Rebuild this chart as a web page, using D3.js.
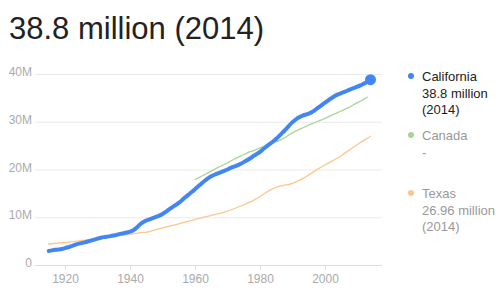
<!DOCTYPE html>
<html>
<head>
<meta charset="utf-8">
<script src="https://cdn.jsdelivr.net/npm/d3@7"></script>
<style>
  body { margin: 0; background: #fff; }
  svg { display: block; font-family: "Liberation Sans", Arial, sans-serif; }
</style>
</head>
<body>
<div id="chart"></div>
<script>
// population, millions
var caYears = d3.range(1915, 2015);
var caValues = [2.93, 3.07, 3.18, 3.26, 3.33, 3.55, 3.72, 3.92, 4.24, 4.44,
    4.57, 4.74, 4.92, 5.09, 5.30, 5.55, 5.72, 5.84, 5.94, 6.04,
    6.18, 6.34, 6.53, 6.66, 6.79, 6.95, 7.24, 7.74, 8.51, 8.97,
    9.34, 9.56, 9.83, 10.06, 10.34, 10.68, 11.13, 11.64, 12.10, 12.52,
    13.00, 13.58, 14.18, 14.74, 15.29, 15.87, 16.50, 17.07, 17.67, 18.15,
    18.59, 18.92, 19.18, 19.43, 19.71, 19.97, 20.35, 20.59, 20.87, 21.17,
    21.54, 21.94, 22.35, 22.84, 23.26, 23.67, 24.29, 24.82, 25.36, 25.84,
    26.44, 27.10, 27.78, 28.46, 29.22, 29.96, 30.47, 30.97, 31.27, 31.48,
    31.70, 32.02, 32.49, 32.99, 33.50, 33.99, 34.51, 34.94, 35.39, 35.75,
    35.99, 36.25, 36.55, 36.86, 37.08, 37.32, 37.67, 37.97, 38.33, 38.80];

var canYears = d3.range(1960, 2014);
var canValues = [17.90, 18.24, 18.58, 18.93, 19.29, 19.64, 20.05, 20.41, 20.73, 21.03,
    21.40, 21.80, 22.15, 22.49, 22.81, 23.14, 23.45, 23.73, 23.96, 24.20,
    24.52, 24.82, 25.12, 25.37, 25.61, 25.84, 26.10, 26.45, 26.79, 27.28,
    27.69, 28.04, 28.37, 28.68, 29.00, 29.30, 29.61, 29.90, 30.16, 30.40,
    30.69, 31.02, 31.36, 31.64, 31.94, 32.24, 32.57, 32.89, 33.25, 33.63,
    34.00, 34.34, 34.75, 35.15];

var txYears = [1915, 1920, 1925, 1930, 1935, 1940, 1942, 1944, 1945, 1946, 1948, 1950,
    1955, 1960, 1965, 1970, 1975, 1978, 1980, 1982, 1984, 1986, 1988, 1990,
    1992, 1994, 1996, 1998, 2000, 2002, 2004, 2006, 2008, 2010, 2012, 2014];
var txValues = [4.40, 4.70, 5.10, 5.55, 6.00, 6.40, 6.60, 6.90, 6.80, 7.00, 7.40, 7.75,
    8.55, 9.60, 10.40, 11.20, 12.60, 13.50, 14.30, 15.30, 16.00, 16.60, 16.75, 17.05,
    17.70, 18.40, 19.30, 20.20, 20.95, 21.70, 22.40, 23.40, 24.30, 25.25, 26.10, 26.96];

var yTicks = [0, 10, 20, 30, 40];
var yTickLabels = ["0", "10M", "20M", "30M", "40M"];
var xTicks = [1920, 1940, 1960, 1980, 2000];

var seriesNames = ["California", "Canada", "Texas"];
var seriesColors = ["#4285f4", "#a8d497", "#fdc68d"];
var legendValues = [["38.8 million", "(2014)"], ["-"], ["26.96 million", "(2014)"]];
var titleText = "38.8 million (2014)";

var series = [
    {name: seriesNames[0], years: caYears, values: caValues, width: 4},
    {name: seriesNames[1], years: canYears, values: canValues, width: 1.3},
    {name: seriesNames[2], years: txYears, values: txValues, width: 1.3}
];

var svg = d3.select("#chart").append("svg")
    .attr("width", 500)
    .attr("height", 295);

var gridLeft = 35, gridRight = 382;

var x = d3.scaleLinear().domain([1920, 2000]).range([65, 325]);
var y = d3.scaleLinear().domain([0, 40]).range([265, 74]);

svg.append("text")
    .attr("x", 9)
    .attr("y", 39)
    .attr("font-size", 31)
    .attr("fill", "#222")
    .text(titleText);

// grid
svg.selectAll("line.grid")
    .data(yTicks)
    .enter().append("line")
    .attr("class", "grid")
    .attr("x1", gridLeft)
    .attr("x2", gridRight)
    .attr("y1", function(d){ return y(d) + 0.5; })
    .attr("y2", function(d){ return y(d) + 0.5; })
    .attr("stroke", function(d){ return d == 0 ? "#ddd" : "#ebebeb"; })
    .attr("stroke-width", 1);

svg.selectAll("text.ylab")
    .data(yTicks)
    .enter().append("text")
    .attr("class", "ylab")
    .attr("x", 32)
    .attr("y", function(d){ return y(d) + 2; })
    .attr("text-anchor", "end")
    .attr("font-size", 12)
    .attr("fill", "#aaa")
    .text(function(d, i){ return yTickLabels[i]; });

// x axis
var xAxis = svg.append("g")
    .attr("transform", "translate(0," + (y(0) + 0.5) + ")")
    .call(d3.axisBottom(x).tickValues(xTicks).tickSize(4).tickPadding(5).tickFormat(d3.format("d")));
xAxis.select(".domain").remove();
xAxis.selectAll("line").attr("stroke", "#ddd");
xAxis.selectAll("text")
    .attr("font-size", 12)
    .attr("font-family", "Liberation Sans, Arial, sans-serif")
    .attr("fill", "#aaa");

var line = d3.line()
    .curve(d3.curveBasis)
    .x(function(d){ return x(d[0]); })
    .y(function(d){ return y(d[1]); });

// draw Texas, Canada, then California on top
[2, 1, 0].forEach(function(i){
    var s = series[i];
    var pts = s.years.map(function(yr, j){ return [yr, s.values[j]]; });
    svg.append("path")
        .datum(pts)
        .attr("d", line)
        .attr("fill", "none")
        .attr("stroke", seriesColors[i])
        .attr("stroke-width", s.width)
        .attr("stroke-linejoin", "round")
        .attr("stroke-linecap", "round");
});

var caLast = caYears.length - 1;
svg.append("circle")
    .attr("cx", x(caYears[caLast]))
    .attr("cy", y(caValues[caLast]))
    .attr("r", 5.5)
    .attr("fill", seriesColors[0]);

// legend
var legendTop = [76, 135, 193];
seriesNames.forEach(function(name, i){
    var g = svg.append("g").attr("transform", "translate(0," + legendTop[i] + ")");
    g.append("circle")
        .attr("cx", 411)
        .attr("cy", 0)
        .attr("r", 3)
        .attr("fill", seriesColors[i]);
    var lines = [name].concat(legendValues[i]);
    g.selectAll("text")
        .data(lines)
        .enter().append("text")
        .attr("x", 422)
        .attr("y", function(d, j){ return 5 + j * 16.5; })
        .attr("font-size", 13)
        .attr("fill", i == 0 ? "#222" : "#999")
        .text(function(d){ return d; });
});
</script>
</body>
</html>
